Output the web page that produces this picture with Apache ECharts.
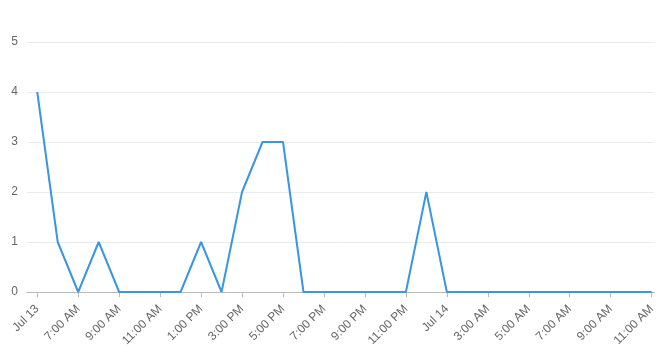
<!DOCTYPE html>
<html><head><meta charset="utf-8">
<script src="https://cdn.jsdelivr.net/npm/echarts@6/dist/echarts.min.js"></script>
<style>html,body{margin:0;padding:0;background:#fff}#c{width:658px;height:362px}</style>
</head><body><div id="c"></div>
<script>
const categories = ["Jul 13","6:00 AM","7:00 AM","8:00 AM","9:00 AM","10:00 AM","11:00 AM","12:00 PM","1:00 PM","2:00 PM","3:00 PM","4:00 PM","5:00 PM","6:00 PM","7:00 PM","8:00 PM","9:00 PM","10:00 PM","11:00 PM","12:00 AM","Jul 14","2:00 AM","3:00 AM","4:00 AM","5:00 AM","6:00 AM","7:00 AM","8:00 AM","9:00 AM","10:00 AM","11:00 AM"];
const values = [4,1,0,1,0,0,0,0,1,0,2,3,3,0,0,0,0,0,0,2,0,0,0,0,0,0,0,0,0,0,0];
const labelIdx = [0,2,4,6,8,10,12,14,16,18,20,22,24,26,28,30];
const yTicks = {min:0, max:5, interval:1};
const pts = values.map((v,i)=>[i,v]);
const chart = echarts.init(document.getElementById('c'), null, {renderer:'canvas'});
chart.setOption({
  animation:false,
  grid:{left:27, top:42, right:0, bottom:70, containLabel:false},
  xAxis:{type:'value', min:-0.5, max:30.13,
    axisLine:{onZero:false, lineStyle:{color:'#bbb'}},
    axisTick:{customValues:labelIdx, lineStyle:{color:'#bbb'}, length:5},
    axisLabel:{customValues:labelIdx, formatter:(v)=>categories[Math.round(v)], rotate:45, color:'#666', fontSize:12, fontFamily:'Liberation Sans, Arial, sans-serif', margin:15, showMinLabel:true, showMaxLabel:true},
    splitLine:{show:false}},
  yAxis:{type:'value', min:yTicks.min, max:yTicks.max, interval:yTicks.interval,
    axisLine:{show:false}, axisTick:{show:false},
    axisLabel:{color:'#666', fontSize:12, fontFamily:'Liberation Sans, Arial, sans-serif', margin:9},
    splitLine:{lineStyle:{color:'#ececec'}}},
  series:[{type:'line', data:pts, showSymbol:false, lineStyle:{color:'#3a96e3', width:2}, itemStyle:{color:'#3a96e3'}}]
});
</script></body></html>
